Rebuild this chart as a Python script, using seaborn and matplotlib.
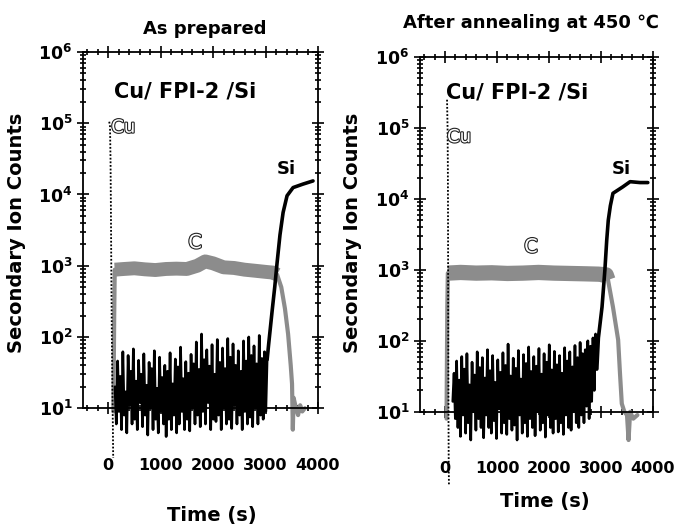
import matplotlib
matplotlib.use("Agg")
import matplotlib.pyplot as plt
import matplotlib.ticker as mticker
import matplotlib.patheffects as pe
import numpy as np
import pandas as pd
import seaborn as sns

# ---- values ----
TITLES = ["As prepared", "After annealing at 450 \u2103"]
SAMPLE = "Cu/ FPI-2 /Si"
X_TICKS = [0, 1000, 2000, 3000, 4000]

# as prepared
CU_T_L = [20, 35, 45, 50, 55, 60, 70, 80, 90, 95, 105]
CU_V_L = [1.05e5, 9e4, 3e4, 1e4, 3e3, 8e2, 1e2, 20, 5, 2.2, 1]

C_T_L = [100, 115, 125, 300, 500, 700, 900, 1100, 1300, 1500, 1700, 1850, 2000,
         2200, 2400, 2600, 2800, 3000, 3150, 3220, 3300, 3370, 3430, 3480, 3505,
         3520, 3535, 3580, 3620, 3660, 3700, 3750]
C_V_L = [9, 200, 880, 900, 920, 890, 870, 900, 910, 900, 1000, 1150, 1080,
         950, 930, 880, 850, 820, 800, 750, 500, 250, 110, 40, 22,
         5, 14, 10, 8, 11, 9, 10]

SI_NOISE_START_L, SI_NOISE_END_L = 130, 3030
SI_NOISE_L = [
    20, 6, 46, 9, 28, 5, 62, 8, 17, 4.5, 55, 11, 33, 6, 68, 7, 24, 5, 47, 12,
    30, 5.5, 58, 8, 21, 4.2, 44, 10, 36, 5, 64, 7, 19, 4.5, 52, 9, 27, 6, 40, 4,
    33, 7, 60, 5, 22, 8, 49, 4.5, 38, 6, 72, 9, 26, 5, 45, 7, 31, 4.8, 57, 10,
    42, 6, 85, 8, 35, 5.5, 110, 9, 48, 6, 66, 12, 39, 5, 78, 7, 30, 6.5, 92, 8,
    44, 5, 70, 10, 36, 6, 95, 7, 52, 5.2, 80, 11, 40, 6, 64, 8, 33, 5, 88, 9,
    46, 6, 100, 7.5, 55, 5.5, 75, 10, 42, 6, 105, 8, 50, 7, 62, 9, 48,
]
SI_RISE_T_L = [3030, 3060, 3125, 3175, 3220, 3275, 3335, 3410, 3525, 3715, 3905]
SI_RISE_V_L = [48, 80, 230, 500, 1100, 2700, 5600, 9600, 1.25e4, 1.4e4, 1.55e4]

# after annealing at 450 C
CU_T_R = [40, 50, 55, 58, 60, 62, 65, 68, 72, 76, 80]
CU_V_R = [2.5e5, 1e5, 3.3e4, 1e4, 2e3, 300, 40, 8, 2, 1, 0.5]

C_T_R = [30, 45, 55, 300, 600, 900, 1200, 1500, 1800, 2100, 2400, 2700, 2950,
         3100, 3135, 3230, 3330, 3365, 3400, 3450, 3500, 3530, 3560, 3620, 3700]
C_V_R = [8, 300, 900, 920, 900, 910, 890, 900, 920, 900, 890, 880, 870,
         850, 720, 300, 103, 35, 13, 10, 9, 4, 10, 8, 9]

SI_NOISE_START_R, SI_NOISE_END_R = 150, 2920
SI_NOISE_R = [
    14, 35, 8, 52, 6, 28, 4.5, 60, 9, 40, 5, 66, 7, 24, 4, 50, 10, 33, 5.5, 70,
    8, 42, 6, 58, 4.3, 30, 9, 75, 6, 38, 5, 62, 7.5, 26, 4.2, 54, 11, 36, 5, 68,
    7, 45, 4.8, 90, 8, 32, 5.5, 57, 6.5, 41, 4, 73, 9, 29, 5, 64, 7, 48, 4.5, 82,
    8, 37, 6, 60, 4.6, 44, 10, 78, 5.5, 34, 7, 66, 4.4, 50, 9, 88, 6, 39, 5, 71,
    8, 46, 5.2, 62, 7, 35, 4.8, 80, 9, 52, 6, 70, 5.5, 43, 10, 86, 7, 58, 6, 95,
    9, 66, 7, 75, 12, 100, 8, 84, 14, 110, 20, 125, 40,
]
SI_RISE_T_R = [2920, 2950, 3020, 3075, 3110, 3140, 3180, 3230, 3420, 3560, 3750, 3900]
SI_RISE_V_R = [40, 110, 300, 1000, 2600, 5000, 8000, 1.2e4, 1.48e4, 1.75e4, 1.7e4, 1.7e4]

STIPPLE = "#8c8c8c"


def draw_panel(ax, cu_t, cu_v, c_t, c_v, noise, t0, t1, rise_t, rise_v, ybottom, band_lw):
    noise_df = pd.DataFrame({"t": np.linspace(t0, t1, len(noise)), "v": noise})
    rise_df = pd.DataFrame({"t": rise_t, "v": rise_v})
    c_df = pd.DataFrame({"t": c_t, "v": c_v})
    cu_df = pd.DataFrame({"t": cu_t, "v": cu_v})

    ax.set_yscale("log")
    # carbon: thin stipple for the edges, heavy band on the plateau
    sns.lineplot(data=c_df, x="t", y="v", ax=ax, color=STIPPLE, linewidth=3,
                 estimator=None, sort=False)
    plateau = c_df[c_df["v"] >= 600]
    sns.lineplot(data=plateau, x="t", y="v", ax=ax, color=STIPPLE, linewidth=band_lw,
                 estimator=None, sort=False, solid_capstyle="butt")
    sns.lineplot(data=noise_df, x="t", y="v", ax=ax, color="black", linewidth=1.9,
                 estimator=None, sort=False)
    sns.lineplot(data=rise_df, x="t", y="v", ax=ax, color="black", linewidth=2.6,
                 estimator=None, sort=False)
    sns.lineplot(data=cu_df, x="t", y="v", ax=ax, color="black", linewidth=1.3,
                 linestyle=(0, (1, 1)), estimator=None, sort=False)

    ax.set_xlim(-480, 4000)
    ax.set_ylim(ybottom, 1e6)
    ax.set_xlabel("")
    ax.set_ylabel("")

    ax.spines["bottom"].set_position(("data", 10))
    ax.spines["left"].set_bounds(10, 1e6)
    ax.spines["right"].set_bounds(10, 1e6)
    for sp in ax.spines.values():
        sp.set_linewidth(1.3)
        sp.set_color("black")

    ax.xaxis.set_major_locator(mticker.FixedLocator(X_TICKS))
    ax.xaxis.set_minor_locator(mticker.MultipleLocator(200))
    ax.yaxis.set_major_locator(mticker.FixedLocator([10.0 ** e for e in range(1, 7)]))
    ax.yaxis.set_minor_locator(mticker.FixedLocator(
        [m * 10.0 ** e for e in range(1, 6) for m in range(2, 10)]))
    ax.yaxis.set_minor_formatter(mticker.NullFormatter())
    ax.yaxis.set_major_formatter(mticker.FuncFormatter(
        lambda v, p: r"$\mathbf{10^{%d}}$" % int(round(np.log10(v)))))
    ax.xaxis.set_major_formatter(mticker.FuncFormatter(lambda v, p: f"{int(v)}"))

    ax.tick_params(which="both", direction="inout", top=True, right=True,
                   bottom=True, left=True, labeltop=False, labelright=False,
                   width=1.2, color="black", labelcolor="black")
    ax.tick_params(which="major", length=9)
    ax.tick_params(which="minor", length=5)
    ax.tick_params(axis="x", pad=31, labelsize=11.5)
    ax.tick_params(axis="y", pad=3, labelsize=12.5)
    for lab in ax.get_xticklabels():
        lab.set_fontweight("bold")


def main():
    sns.set_style("ticks")
    plt.rcParams["font.family"] = ["DejaVu Sans"]
    plt.rcParams["text.color"] = "black"
    W, H = 693, 530
    fig = plt.figure(figsize=(W / 100, H / 100), dpi=100)

    # left axes: x 83..318 px, 1e6 at y=52, bottom (2) at y=458
    ax_l = fig.add_axes([83 / W, 1 - 458 / H, (318 - 83) / W, (458 - 52) / H])
    # right axes: x 420..653 px, 1e6 at y=57, bottom (0.9) at y=486
    ax_r = fig.add_axes([420 / W, 1 - 486 / H, (653 - 420) / W, (486 - 57) / H])

    draw_panel(ax_l, CU_T_L, CU_V_L, C_T_L, C_V_L, SI_NOISE_L,
               SI_NOISE_START_L, SI_NOISE_END_L, SI_RISE_T_L, SI_RISE_V_L, 2, 10)
    draw_panel(ax_r, CU_T_R, CU_V_R, C_T_R, C_V_R, SI_NOISE_R,
               SI_NOISE_START_R, SI_NOISE_END_R, SI_RISE_T_R, SI_RISE_V_R, 0.9, 11)

    hollow = [pe.withStroke(linewidth=1.6, foreground="#222222")]
    for ax, (s_xy, cu_xy, si_xy, c_xy) in zip(
        [ax_l, ax_r],
        [((1467, 2.8e5), (286, 8.7e4), (3390, 2.3e4), (1657, 2.1e3)),
         ((1385, 3.2e5), (270, 7.4e4), (3385, 2.6e4), (1654, 2.1e3))],
    ):
        ax.text(*s_xy, SAMPLE, ha="center", va="center", fontsize=15, fontweight="bold")
        ax.text(*cu_xy, "Cu", ha="center", va="center", fontsize=13, color="white",
                path_effects=hollow)
        ax.text(*si_xy, "Si", ha="center", va="center", fontsize=13, fontweight="bold")
        ax.text(*c_xy, "C", ha="center", va="center", fontsize=14, color="white",
                path_effects=hollow)

    fig.text(205 / W, 1 - 29 / H, TITLES[0], ha="center", va="center",
             fontsize=13, fontweight="bold")
    fig.text(531 / W, 1 - 23 / H, TITLES[1], ha="center", va="center",
             fontsize=13, fontweight="bold")
    for x in (17, 353):
        fig.text(x / W, 1 - 233 / H, "Secondary Ion Counts", rotation=90,
                 ha="center", va="center", fontsize=14, fontweight="bold")
    fig.text(212 / W, 1 - 515 / H, "Time (s)", ha="center", va="center",
             fontsize=14, fontweight="bold")
    fig.text(545 / W, 1 - 502 / H, "Time (s)", ha="center", va="center",
             fontsize=14, fontweight="bold")

    fig.savefig("out.png", dpi=100)
    plt.close(fig)


if __name__ == "__main__":
    main()
